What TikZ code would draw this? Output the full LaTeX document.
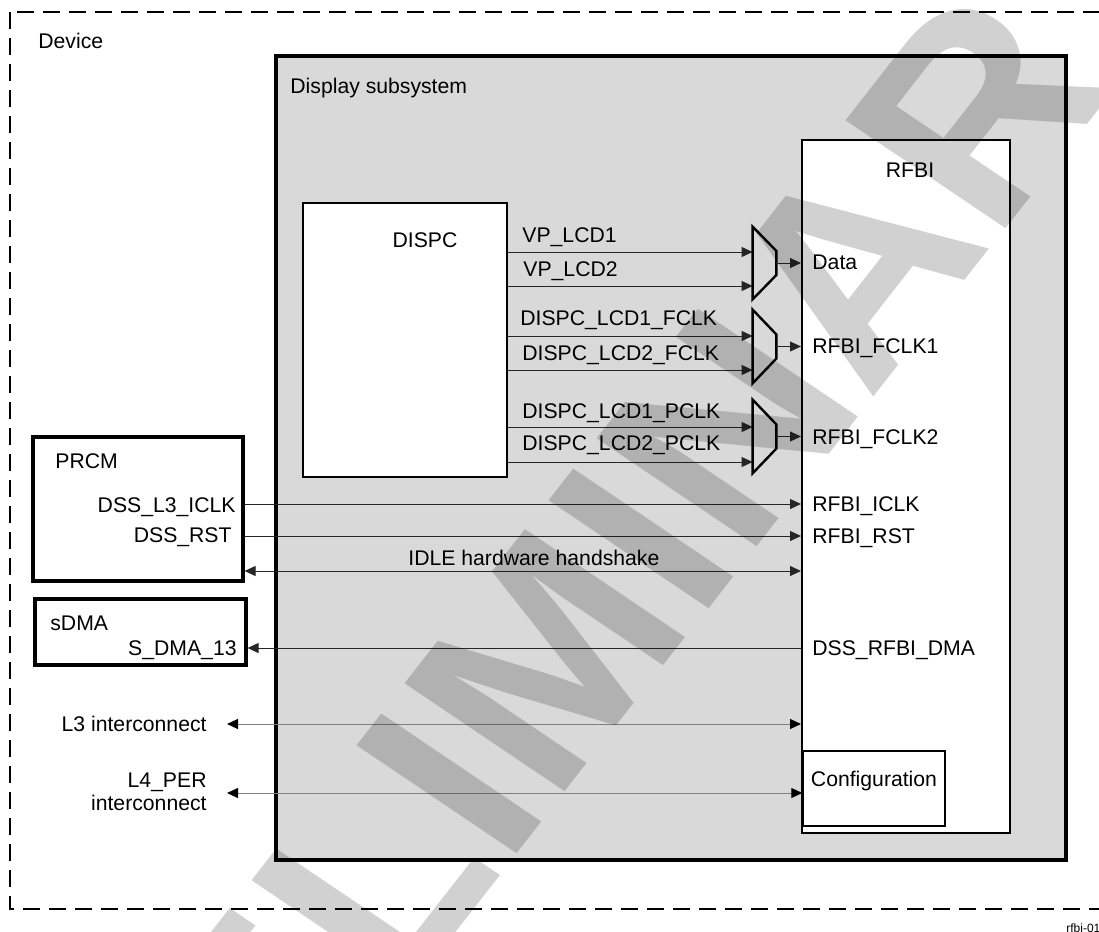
\documentclass[tikz,border=0pt]{standalone}
\usepackage{fontspec}
\setmainfont{Liberation Sans}
\usepackage{tikz}
\usetikzlibrary{shapes,arrows,arrows.meta,positioning,fit,calc}
\definecolor{dssgray}{RGB}{217,217,217}

\begin{document}
\begin{tikzpicture}[
            x=0.5pt, y=-0.5pt,
            every node/.style={font=\fontsize{10.6}{11.5}\selectfont},
            box/.style={draw, inner sep=0pt, line width=1pt},
            thickbox/.style={box, line width=1.6pt},
            lbl/.style={inner sep=0pt, text height=7.6pt, text depth=0pt},
            sig/.style={draw=black!85, line width=0.5pt},
            bus/.style={draw=black!50, line width=0.5pt},
            >={Triangle[length=5.5pt,width=5pt]},
            bustips/.style={{Triangle[length=5.5pt,width=5pt,color=black]}-{Triangle[length=5.5pt,width=5pt,color=black]}},
            muxbox/.style={draw, fill=dssgray, line width=1.2pt, line join=miter},
            wmark/.style={inner sep=0pt, text opacity=0.18, font=\fontsize{140}{140}\selectfont\bfseries}
        ]
            \clip (0,0) rectangle (1099,932);
            \fill[white] (0,0) rectangle (1099,932);
            \draw[line width=1pt, dash pattern=on 8.5pt off 4.5pt] (10,12) rectangle (1140,909);
            \node[lbl, anchor=west] (dev) at (38,41) {Device};

            \node[box, fill=dssgray, line width=2pt, fit={(276,56) (1066,860)}] (dss) {};
            \node[lbl, anchor=west] (dsst) at (290,86) {Display subsystem};

            \node[box, fill=white, fit={(303,203) (507,477)}] (dispc) {};
            \node[lbl] (dispct) at (425,240) {DISPC};
            \node[box, fill=white, fit={(802,140) (1010,833)}] (rfbi) {};
            \node[lbl] (rfbit) at (910,170) {RFBI};
            \node[box, fill=white, line width=0.75pt, fit={(803,751) (945,826)}] (cfg) {Configuration};

            \node[thickbox, fit={(33,437) (243,581)}] (prcm) {};
            \node[lbl, anchor=west] (prcmt) at (55,461) {PRCM};
            \node[lbl, anchor=east] (iclk) at (236,505) {DSS\_L3\_ICLK};
            \node[lbl, anchor=east] (rst) at (232,535) {DSS\_RST};
            \node[thickbox, fit={(35,599) (246,665)}] (sdma) {};
            \node[lbl, anchor=west] (sdmat) at (50,623) {sDMA};
            \node[lbl, anchor=east] (dma13) at (237,648) {S\_DMA\_13};
            \node[lbl, anchor=east] (l3) at (207,724) {L3 interconnect};
            \node[inner sep=0pt, anchor=east, align=right] (l4) at (207,791.5) {L4\_PER\\interconnect};

            \node[lbl, anchor=west] (data) at (812,262) {Data};
            \node[lbl, anchor=west] (fclk1) at (812,346) {RFBI\_FCLK1};
            \node[lbl, anchor=west] (fclk2) at (812,437) {RFBI\_FCLK2};
            \node[lbl, anchor=west] (ricl) at (812,504) {RFBI\_ICLK};
            \node[lbl, anchor=west] (rrst) at (812,536) {RFBI\_RST};
            \node[lbl, anchor=west] (rdma) at (812,648) {DSS\_RFBI\_DMA};

            \node[inner sep=0pt, fit={(753,227) (776,299)}] (mux1) {};
            \node[inner sep=0pt, fit={(753,310) (776,383)}] (mux2) {};
            \node[inner sep=0pt, fit={(753,400) (776,473)}] (mux3) {};

            \node[lbl, anchor=west] (vp1) at (522,235) {VP\_LCD1};
            \node[lbl, anchor=west] (vp2) at (523,269) {VP\_LCD2};
            \node[lbl, anchor=west] (f1) at (520,318) {DISPC\_LCD1\_FCLK};
            \node[lbl, anchor=west] (f2) at (522,353) {DISPC\_LCD2\_FCLK};
            \node[lbl, anchor=west] (p1) at (522,411) {DISPC\_LCD1\_PCLK};
            \node[lbl, anchor=west] (p2) at (522,443) {DISPC\_LCD2\_PCLK};

            \foreach \y/\m in {252/mux1, 286/mux1, 336/mux2, 370/mux2, 427/mux3, 462/mux3}
                \draw[sig, ->] (dispc.east |- 0,\y) -- (\m.west |- 0,\y);
            \foreach \m in {mux1,mux2,mux3} {
                \draw[muxbox] (\m.north west) -- ($(\m.east)+(0,-12)$) -- ($(\m.east)+(0,12)$) -- (\m.south west) -- cycle;
                \draw[sig, ->] (\m.east) -- (rfbi.west |- \m.east);
            }

            \draw[sig, ->] (prcm.east |- ricl) -- (rfbi.west |- ricl);
            \draw[sig, ->] (prcm.east |- rrst) -- (rfbi.west |- rrst);
            \draw[sig, <->] (prcm.east |- 0,571) -- node[lbl, pos=0.52, above=2.7pt] (idle) {IDLE hardware handshake} (rfbi.west |- 0,571);
            \draw[sig, ->] (rfbi.west |- rdma) -- (sdma.east |- rdma);

            \coordinate (l3end) at (227,724);
            \coordinate (l4end) at (227,793);
            \draw[bus, bustips] (l3end) -- (rfbi.west |- l3end);
            \draw[bus, bustips] (l4end) -- (cfg.west |- l4end);

            \node[inner sep=0pt, anchor=west, font=\fontsize{6}{7}\selectfont] (figid) at (1066,928) {rfbi-01};

            \node[wmark, rotate=52, xslant=-0.07, anchor=base west] (wm) at (46,1457) {PRELIMINARY};
        \end{tikzpicture}
\end{document}
